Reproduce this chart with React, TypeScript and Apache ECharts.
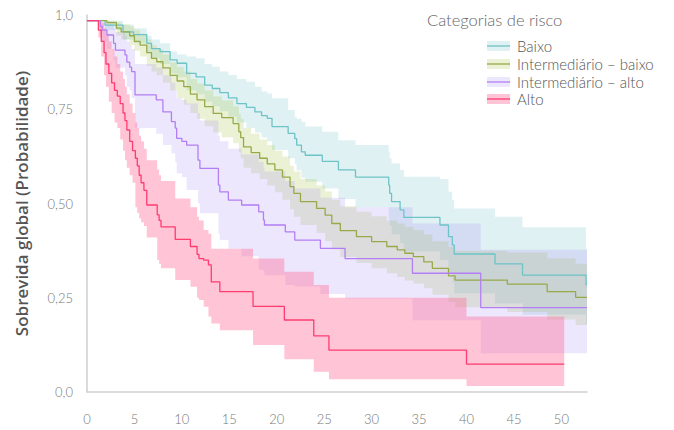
import React, { useEffect, useRef } from "react";
import * as echarts from "echarts";

// ---------- data ----------
const xTicks = [0, 5, 10, 15, 20, 25, 30, 35, 40, 45, 50];
const yTickLabels = ["0,0", "0,25", "0,50", "0,75", "1,0"];
const seriesNames = ["Baixo", "Intermediário – baixo", "Intermediário – alto", "Alto"];
const legendTitle = "Categorias de risco";
const yAxisTitle = "Sobrevida global (Probabilidade)";

// Baixo
const baixoT = [0, 1.9, 3.8, 4.9, 6.3, 6.8, 7.7, 8.76, 9.5, 10.5, 11.5, 12.4, 13.2, 14.0, 14.9, 15.8, 16.8, 17.7, 18.4, 19.0, 19.5, 21.2, 21.9, 22.1, 22.6, 23.0, 24.8, 26.5, 28.3, 31.8, 31.9, 32.1, 33.0, 33.4, 37.2, 38.1, 38.5, 38.7, 43.0, 45.9, 52.6];
const baixoS = [0.985, 0.973, 0.955, 0.948, 0.925, 0.911, 0.903, 0.881, 0.872, 0.845, 0.836, 0.814, 0.805, 0.794, 0.78, 0.765, 0.755, 0.743, 0.733, 0.726, 0.704, 0.686, 0.672, 0.655, 0.637, 0.628, 0.612, 0.589, 0.57, 0.549, 0.527, 0.505, 0.483, 0.463, 0.443, 0.412, 0.39, 0.366, 0.34, 0.31, 0.284];
const baixoU = [0.985, 0.985, 0.975, 0.965, 0.945, 0.935, 0.925, 0.903, 0.895, 0.89, 0.885, 0.87, 0.863, 0.85, 0.841, 0.83, 0.823, 0.81, 0.797, 0.792, 0.779, 0.748, 0.73, 0.725, 0.717, 0.704, 0.69, 0.668, 0.655, 0.637, 0.62, 0.606, 0.589, 0.571, 0.565, 0.531, 0.509, 0.487, 0.465, 0.437, 0.38];
const baixoL = [0.985, 0.96, 0.935, 0.925, 0.9, 0.885, 0.87, 0.845, 0.835, 0.8, 0.79, 0.77, 0.758, 0.745, 0.73, 0.715, 0.7, 0.688, 0.675, 0.665, 0.642, 0.62, 0.605, 0.588, 0.568, 0.558, 0.54, 0.512, 0.49, 0.46, 0.44, 0.418, 0.395, 0.373, 0.35, 0.315, 0.29, 0.262, 0.235, 0.205, 0.18];
const baixoEnd = 52.7;

// Intermediário – baixo
const intBaixoT = [0, 2.1, 3.1, 3.6, 4.5, 5.0, 5.6, 6.3, 6.8, 7.35, 8.0, 8.76, 9.5, 10.2, 10.9, 11.6, 12.4, 13.3, 14.2, 15.4, 16.0, 16.2, 16.5, 17.3, 18.2, 19.0, 19.8, 20.6, 21.4, 21.8, 22.5, 24.2, 25.1, 25.8, 26.7, 28.4, 30.0, 31.6, 32.7, 33.5, 34.4, 35.5, 36.4, 38.1, 38.8, 44.3, 48.5, 51.5];
const intBaixoS = [0.985, 0.98, 0.965, 0.955, 0.945, 0.93, 0.92, 0.9, 0.885, 0.876, 0.86, 0.84, 0.825, 0.81, 0.79, 0.775, 0.757, 0.739, 0.728, 0.712, 0.69, 0.675, 0.65, 0.635, 0.62, 0.605, 0.589, 0.57, 0.545, 0.527, 0.505, 0.487, 0.469, 0.447, 0.428, 0.412, 0.399, 0.386, 0.377, 0.368, 0.359, 0.345, 0.328, 0.308, 0.297, 0.286, 0.266, 0.251];
const intBaixoU = [0.985, 0.985, 0.98, 0.975, 0.97, 0.96, 0.95, 0.935, 0.92, 0.91, 0.895, 0.875, 0.862, 0.85, 0.83, 0.818, 0.8, 0.784, 0.773, 0.758, 0.738, 0.725, 0.7, 0.685, 0.67, 0.655, 0.64, 0.625, 0.6, 0.585, 0.565, 0.548, 0.532, 0.51, 0.493, 0.478, 0.466, 0.455, 0.447, 0.438, 0.43, 0.418, 0.4, 0.385, 0.375, 0.37, 0.355, 0.34];
const intBaixoL = [0.985, 0.97, 0.945, 0.935, 0.92, 0.905, 0.89, 0.865, 0.85, 0.84, 0.82, 0.8, 0.78, 0.762, 0.74, 0.725, 0.705, 0.688, 0.676, 0.66, 0.636, 0.62, 0.595, 0.58, 0.565, 0.548, 0.53, 0.51, 0.485, 0.465, 0.443, 0.422, 0.4, 0.378, 0.358, 0.342, 0.328, 0.315, 0.305, 0.296, 0.288, 0.275, 0.258, 0.238, 0.225, 0.212, 0.192, 0.178];
const intBaixoEnd = 52.7;

// Intermediário – alto
const intAltoT = [0, 1.4, 1.6, 2.1, 2.8, 3.0, 4.0, 4.2, 4.5, 4.7, 5.06, 7.3, 8.0, 8.9, 9.3, 9.45, 10.0, 10.5, 11.7, 11.9, 13.85, 14.0, 14.9, 16.3, 18.1, 18.6, 18.7, 20.9, 21.9, 24.6, 27.2, 34.3, 41.5];
const intAltoS = [0.985, 0.97, 0.96, 0.947, 0.925, 0.907, 0.894, 0.875, 0.862, 0.85, 0.788, 0.775, 0.743, 0.717, 0.7, 0.673, 0.665, 0.655, 0.615, 0.593, 0.549, 0.531, 0.509, 0.496, 0.478, 0.456, 0.443, 0.425, 0.403, 0.381, 0.354, 0.315, 0.224];
const intAltoU = [0.985, 0.985, 0.98, 0.975, 0.965, 0.955, 0.945, 0.93, 0.92, 0.91, 0.87, 0.86, 0.84, 0.82, 0.8, 0.78, 0.775, 0.765, 0.74, 0.72, 0.68, 0.665, 0.645, 0.63, 0.61, 0.595, 0.585, 0.56, 0.54, 0.515, 0.49, 0.447, 0.377];
const intAltoL = [0.985, 0.95, 0.93, 0.91, 0.88, 0.86, 0.84, 0.81, 0.8, 0.78, 0.7, 0.685, 0.655, 0.633, 0.61, 0.58, 0.57, 0.536, 0.5, 0.474, 0.42, 0.403, 0.38, 0.36, 0.324, 0.32, 0.31, 0.284, 0.28, 0.26, 0.248, 0.19, 0.103];
const intAltoEnd = 52.7;

// Alto
const altoT = [0, 1.2, 1.5, 1.8, 2.0, 2.3, 2.6, 2.9, 3.2, 3.5, 3.8, 4.0, 4.2, 4.5, 4.8, 5.1, 5.3, 5.5, 5.7, 6.0, 6.3, 7.4, 7.6, 7.8, 9.3, 10.9, 11.6, 11.8, 12.3, 12.8, 13.1, 14.0, 17.5, 20.8, 23.9, 25.5, 40.0];
const altoS = [0.985, 0.96, 0.93, 0.9, 0.87, 0.845, 0.82, 0.8, 0.785, 0.765, 0.74, 0.72, 0.695, 0.665, 0.64, 0.62, 0.6, 0.575, 0.555, 0.535, 0.496, 0.47, 0.455, 0.438, 0.405, 0.386, 0.365, 0.354, 0.35, 0.337, 0.292, 0.266, 0.227, 0.191, 0.149, 0.111, 0.074];
const altoU = [0.985, 0.985, 0.98, 0.965, 0.95, 0.93, 0.91, 0.89, 0.87, 0.85, 0.83, 0.81, 0.79, 0.765, 0.74, 0.715, 0.7, 0.68, 0.665, 0.645, 0.615, 0.59, 0.575, 0.56, 0.513, 0.49, 0.465, 0.455, 0.43, 0.42, 0.38, 0.38, 0.354, 0.319, 0.284, 0.25, 0.2];
const altoL = [0.985, 0.94, 0.89, 0.84, 0.81, 0.77, 0.74, 0.715, 0.7, 0.67, 0.64, 0.615, 0.595, 0.575, 0.555, 0.49, 0.475, 0.46, 0.45, 0.44, 0.41, 0.35, 0.34, 0.328, 0.297, 0.279, 0.25, 0.244, 0.226, 0.2, 0.182, 0.164, 0.125, 0.087, 0.054, 0.034, 0.016];
const altoEnd = 50.3;

const lineColors = ["#6ec3c7", "#98a948", "#b37ef3", "#ff3b70"];
const bandColors = [
  "rgba(120,195,200,0.24)",
  "rgba(175,200,90,0.26)",
  "rgba(175,145,250,0.22)",
  "rgba(255,100,145,0.38)",
];

const groups = [
  { T: baixoT, S: baixoS, U: baixoU, L: baixoL, end: baixoEnd },
  { T: intBaixoT, S: intBaixoS, U: intBaixoU, L: intBaixoL, end: intBaixoEnd },
  { T: intAltoT, S: intAltoS, U: intAltoU, L: intAltoL, end: intAltoEnd },
  { T: altoT, S: altoS, U: altoU, L: altoL, end: altoEnd },
];

const FONT = "Lato, 'Open Sans', sans-serif";

function bandSeries(idx: number) {
  const g = groups[idx];
  return {
    type: "custom",
    name: seriesNames[idx] + " (IC)",
    silent: true,
    z: 1,
    data: [[g.T[0], g.S[0]]],
    renderItem: (_params: any, api: any) => {
      const pts: number[][] = [];
      for (let i = 0; i < g.T.length; i++) {
        const x1 = i + 1 < g.T.length ? g.T[i + 1] : g.end;
        pts.push(api.coord([g.T[i], g.U[i]]), api.coord([x1, g.U[i]]));
      }
      for (let i = g.T.length - 1; i >= 0; i--) {
        const x1 = i + 1 < g.T.length ? g.T[i + 1] : g.end;
        pts.push(api.coord([x1, g.L[i]]), api.coord([g.T[i], g.L[i]]));
      }
      return {
        type: "polygon",
        shape: { points: pts },
        style: { fill: bandColors[idx], stroke: null },
      };
    },
  };
}

function lineSeries(idx: number) {
  const g = groups[idx];
  const data = g.T.map((t, i) => [t, g.S[i]]);
  data.push([g.end, g.S[g.S.length - 1]]);
  return {
    type: "line",
    name: seriesNames[idx],
    step: "end",
    z: 3,
    symbol: "none",
    showSymbol: false,
    lineStyle: { color: lineColors[idx], width: 1.3 },
    data,
  };
}

function legendGraphic() {
  const children: any[] = [
    {
      type: "text",
      left: 427,
      top: 11,
      style: { text: legendTitle, fill: "#666", font: `300 16.5px ${FONT}` },
    },
  ];
  const rowY = [46, 64, 82, 99];
  seriesNames.forEach((n, i) => {
    children.push({
      type: "rect",
      shape: { x: 487, y: rowY[i] - 5, width: 23, height: 10 },
      style: { fill: bandColors[i] },
    });
    children.push({
      type: "line",
      shape: { x1: 487, y1: rowY[i], x2: 510, y2: rowY[i] },
      style: { stroke: lineColors[i], lineWidth: 1.3 },
    });
    children.push({
      type: "text",
      x: 517,
      y: rowY[i],
      style: {
        text: n,
        fill: "#555",
        font: `300 15px ${FONT}`,
        verticalAlign: "middle",
      },
    });
  });
  return children;
}

export default function App() {
  const ref = useRef<HTMLDivElement>(null);
  useEffect(() => {
    if (!ref.current) return;
    const chart = echarts.init(ref.current, null, { renderer: "svg" });
    chart.setOption({
      animation: false,
      textStyle: { fontFamily: FONT },
      grid: { left: 87, right: 87, top: 15, bottom: 38, containLabel: false },
      xAxis: {
        type: "value",
        min: 0,
        max: 52.7,
        interval: 5,
        axisLine: { show: true, lineStyle: { color: "#cfcfcf", width: 1.5 } },
        axisTick: { show: false },
        splitLine: { show: false },
        axisLabel: {
          color: "#777",
          fontSize: 13,
          fontWeight: 300,
          margin: 20,
          showMaxLabel: false,
          formatter: (v: number) => (xTicks.indexOf(v) >= 0 ? String(v) : ""),
        },
      },
      yAxis: {
        type: "value",
        min: 0,
        max: 1,
        interval: 0.25,
        name: yAxisTitle,
        nameLocation: "middle",
        nameGap: 57,
        nameTextStyle: {
          color: "#555",
          fontSize: 17,
          fontWeight: 600,
          fontFamily: "'Open Sans', Lato, sans-serif",
        },
        axisLine: { show: true, lineStyle: { color: "#cfcfcf", width: 1.5 } },
        axisTick: { show: false },
        splitLine: { show: false },
        axisLabel: {
          color: "#777",
          fontSize: 13,
          fontWeight: 300,
          margin: 14,
          formatter: (v: number) => yTickLabels[Math.round(v / 0.25)] ?? "",
        },
      },
      series: [
        bandSeries(0),
        bandSeries(1),
        bandSeries(2),
        bandSeries(3),
        lineSeries(0),
        lineSeries(1),
        lineSeries(2),
        lineSeries(3),
      ],
      graphic: legendGraphic(),
    });
    return () => chart.dispose();
  }, []);
  return (
    <div
      ref={ref}
      style={{ position: "fixed", left: 0, top: 0, width: 674, height: 430, background: "#fff" }}
    />
  );
}
